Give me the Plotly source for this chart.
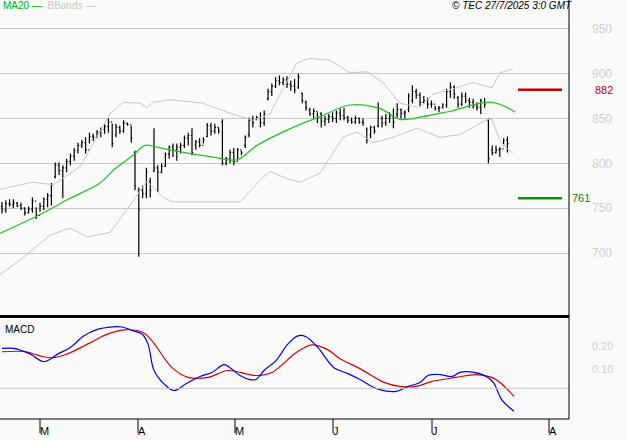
import plotly.graph_objects as go

# ---- OHLC data (bar index 0..133) ----
HIGH = [757,759,760,760,757,756,751,752,762,751,
        756,762,767,778,801,801,798,805,811,817,
        823,826,829,834,833,837,840,844,850,844,
        844,842,848,845,842,814,773,775,795,784,
        839,798,800,812,820,822,822,823,831,834,
        839,826,828,829,845,845,844,840,849,807,
        815,817,817,814,831,851,853,853,857,859,
        883,889,896,898,896,897,892,894,900,879,
        870,862,861,857,857,853,855,857,859,861,
        862,853,851,853,851,850,840,842,842,868,
        853,855,857,861,867,861,859,878,887,883,
        879,875,873,870,864,864,867,883,890,887,
        875,879,879,873,872,868,872,873,850,820,
        820,818,828,830]
LOW = [744,745,752,750,751,748,742,744,745,738,
       746,748,751,753,783,787,761,790,798,803,
       811,817,811,822,825,828,829,833,834,818,
       829,833,834,842,823,770,696,761,761,762,
       790,768,789,796,805,807,803,811,817,820,
       809,815,818,822,829,831,833,833,798,798,
       800,798,803,809,817,829,840,848,840,842,
       870,875,884,887,887,884,881,878,883,867,
       859,853,850,845,840,842,845,846,845,848,
       848,845,844,844,844,842,822,828,833,840,
       840,842,845,839,851,850,850,857,867,872,
       864,867,861,862,859,857,861,862,873,872,
       862,864,867,862,861,859,855,862,800,809,
       811,807,820,812]
CLOSE = [748,755,754,756,753,750,745,749,758,742,
         752,760,764,776,798,792,795,802,808,814,
         820,823,815,830,829,835,838,841,846,822,
         840,836,845,843,828,775,748,766,790,770,
         795,790,797,810,818,815,818,820,828,831,
         812,824,820,826,842,836,840,836,800,805,
         812,802,815,812,829,848,845,851,845,855,
         880,886,892,890,893,888,886,882,896,870,
         862,855,858,850,847,849,852,850,856,853,
         851,848,846,850,846,845,826,840,836,862,
         845,850,852,846,860,856,857,875,880,876,
         868,870,866,866,861,862,865,880,885,877,
         866,875,870,868,864,862,870,866,805,812,
         815,816,826,822]
OPEN = [752,748,755,754,756,753,750,745,749,758,
        742,752,760,764,785,798,792,795,802,808,
        814,820,823,815,830,829,835,838,841,846,
        832,840,836,845,843,812,770,770,766,780,
        792,795,790,797,810,818,815,818,820,828,
        831,820,824,820,830,842,836,840,846,800,
        805,812,802,815,820,832,848,849,851,845,
        872,880,886,892,890,893,888,886,885,878,
        868,860,855,858,855,847,849,852,850,856,
        853,851,848,846,850,846,838,832,840,842,
        850,845,850,852,855,860,856,860,870,880,
        876,868,870,866,866,861,862,865,880,885,
        873,866,875,870,868,864,862,868,848,815,
        812,815,816,826]

# ---- indicator samples: (chart pixel column, value) ----
MA20_PX = [0,40,70,100,115,133,145,157,170,213,237,257,297,320,350,380,400,423,450,492,515]
MA20_V  = [722,743,761,778,794,809,820,818,815,807,804,820,842,852,865,861,849,852,858,868,857]
BBU_PX = [0,33,53,80,110,123,140,147,153,170,203,227,253,270,280,297,310,330,350,367,383,400,420,433,453,473,492,500,513]
BBU_V  = [771,779,776,796,855,868,867,862,868,871,867,857,848,855,877,912,917,915,901,902,890,867,862,877,883,890,884,901,905]
BBL_PX = [0,20,50,70,87,110,130,147,163,173,240,260,270,287,300,320,343,357,373,393,417,440,460,487,492,500,513]
BBL_V  = [676,692,720,728,718,723,753,780,762,757,757,781,791,783,779,789,829,835,823,829,839,829,832,849,849,825,810]
MACD_PX = [2,14,30,44,58,70,84,98,110,122,134,142,148,154,164,174,186,200,212,224,230,240,250,256,264,276,288,298,306,318,334,348,360,376,396,408,420,428,440,452,460,474,488,494,502,514]
MACD_V  = [0.189,0.189,0.166,0.133,0.166,0.192,0.242,0.270,0.279,0.279,0.262,0.250,0.208,0.096,0.040,0.012,0.040,0.071,0.088,0.121,0.108,0.075,0.058,0.058,0.096,0.138,0.208,0.242,0.238,0.192,0.108,0.083,0.058,0.021,0.008,0.029,0.046,0.075,0.079,0.071,0.088,0.088,0.067,0.042,-0.029,-0.075]
SIG_PX = [2,26,40,54,68,88,108,124,142,152,172,188,208,228,256,272,296,312,328,340,360,384,400,416,432,456,476,494,514]
SIG_V  = [0.175,0.175,0.158,0.150,0.167,0.208,0.250,0.267,0.258,0.221,0.108,0.067,0.067,0.096,0.075,0.088,0.171,0.204,0.183,0.146,0.104,0.046,0.029,0.029,0.050,0.067,0.079,0.063,-0.013]

MONTHS = ["M","A","M","J","J","A"]
MONTH_PX = [40,138,235,333,432,549]
PRICE_TICKS = [700,750,800,850,900,950]
MACD_TICKS = [0.10,0.20]
MACD_TICK_TEXT = ["0.10","0.20"]
RES, SUP = 882, 761

W, H = 627, 440
PLOT_R = 569
def idx(px):  # chart pixel column -> bar index
    return (px - 2) / 3.8
X0, X1 = idx(0), idx(PLOT_R)

fig = go.Figure()
fig.add_trace(go.Scatter(x=[idx(p) for p in BBU_PX], y=BBU_V, mode="lines",
                         line=dict(color="#c8c8c8", width=1), xaxis="x", yaxis="y"))
fig.add_trace(go.Scatter(x=[idx(p) for p in BBL_PX], y=BBL_V, mode="lines",
                         line=dict(color="#c8c8c8", width=1), xaxis="x", yaxis="y"))
fig.add_trace(go.Scatter(x=[idx(p) for p in MA20_PX], y=MA20_V, mode="lines",
                         line=dict(color="#22c322", width=1.2, shape="spline"), xaxis="x", yaxis="y"))
fig.add_trace(go.Ohlc(x=list(range(len(CLOSE))), open=OPEN, high=HIGH, low=LOW, close=CLOSE,
                      increasing_line_color="black", decreasing_line_color="black",
                      line_width=1.2, tickwidth=0.3, xaxis="x", yaxis="y"))
fig.add_trace(go.Scatter(x=[idx(518), idx(562)], y=[RES, RES], mode="lines",
                         line=dict(color="#cc0000", width=2.5), xaxis="x", yaxis="y"))
fig.add_trace(go.Scatter(x=[idx(518), idx(562)], y=[SUP, SUP], mode="lines",
                         line=dict(color="#009900", width=2.5), xaxis="x", yaxis="y"))
fig.add_trace(go.Scatter(x=[idx(p) for p in SIG_PX], y=SIG_V, mode="lines",
                         line=dict(color="#dd0000", width=1.2, shape="spline"), xaxis="x2", yaxis="y2"))
fig.add_trace(go.Scatter(x=[idx(p) for p in MACD_PX], y=MACD_V, mode="lines",
                         line=dict(color="#0000ee", width=1.2, shape="spline"), xaxis="x2", yaxis="y2"))

xdom = [0, PLOT_R / W]
top_dom = [1 - 315 / H, 1]
bot_dom = [1 - 419 / H, 1 - 318 / H]
fig.update_layout(
    width=W, height=H, margin=dict(l=0, r=0, t=0, b=0, autoexpand=False),
    paper_bgcolor="#fafafa", plot_bgcolor="#fafafa", showlegend=False,
    xaxis=dict(domain=xdom, range=[X0, X1], showgrid=False, showticklabels=False, automargin=False,
               zeroline=False, rangeslider=dict(visible=False), fixedrange=True),
    yaxis=dict(domain=top_dom, range=[631, 982], tickvals=PRICE_TICKS, side="right", automargin=False,
               showgrid=True, gridcolor="#c8c8c8", gridwidth=1, zeroline=False,
               ticks="", tickfont=dict(family="Arial", size=12, color="#d0d0d0"), ticklabelstandoff=22),
    xaxis2=dict(domain=xdom, range=[X0, X1], anchor="y2", showgrid=False, showticklabels=False,
                zeroline=False, automargin=False),
    yaxis2=dict(domain=bot_dom, range=[-0.108, 0.317], tickvals=MACD_TICKS, ticktext=MACD_TICK_TEXT,
                side="right", showgrid=False, zeroline=False, ticks="", anchor="x2", automargin=False,
                tickfont=dict(family="Arial", size=11, color="#d0d0d0"), ticklabelstandoff=22),
)
fig.add_shape(type="line", xref="x2", yref="y2", x0=X0, x1=X1, y0=0.021, y1=0.021,
              line=dict(color="#c8c8c8", width=1))
fig.add_shape(type="line", xref="paper", yref="paper", x0=0, x1=PLOT_R / W,
              y0=1 - 316.5 / H, y1=1 - 316.5 / H, line=dict(color="black", width=3))
fig.add_shape(type="line", xref="paper", yref="paper", x0=0, x1=PLOT_R / W,
              y0=1 - 419 / H, y1=1 - 419 / H, line=dict(color="black", width=1))
fig.add_shape(type="line", xref="paper", yref="paper", x0=PLOT_R / W, x1=PLOT_R / W,
              y0=1 - 419 / H, y1=1, line=dict(color="black", width=1))
for m, p in zip(MONTHS, MONTH_PX):
    fig.add_shape(type="line", xref="x2", yref="paper", x0=idx(p), x1=idx(p),
                  y0=1 - 419 / H, y1=1 - 433 / H, line=dict(color="black", width=1))
    fig.add_annotation(x=idx(p), y=1 - 431 / H, xref="x2", yref="paper", text=m, showarrow=False,
                       xanchor="left", yanchor="middle", xshift=-2,
                       font=dict(family="Arial", size=11, color="black"))
fig.add_annotation(x=0.001, y=1, xref="paper", yref="paper", showarrow=False, xanchor="left", yanchor="top",
                   text="<span style='color:#00b000'>MA20 —</span>  <span style='color:#c8c8c8'>BBands —</span>",
                   font=dict(family="Arial", size=10), yshift=2)
fig.add_annotation(x=574 / W, y=1, xref="paper", yref="paper", showarrow=False, xanchor="right", yanchor="top",
                   text="<i>© TEC 27/7/2025 3:0 GMT</i>", font=dict(family="Arial", size=10, color="black"), yshift=2)
fig.add_annotation(x=0.005, y=1 - 322 / H, xref="paper", yref="paper", showarrow=False, xanchor="left",
                   yanchor="top", text="MACD", font=dict(family="Arial", size=10, color="black"))
fig.add_annotation(x=593 / W, y=RES, xref="paper", yref="y", showarrow=False, xanchor="left",
                   text=str(RES), font=dict(family="Arial", size=11, color="#cc0000"))
fig.add_annotation(x=570 / W, y=SUP, xref="paper", yref="y", showarrow=False, xanchor="left",
                   text=str(SUP), font=dict(family="Arial", size=11, color="#008800"))

fig.write_html("out.html", config={"displayModeBar": False},
               post_script="document.body.style.margin='0';document.body.style.overflow='hidden';")
